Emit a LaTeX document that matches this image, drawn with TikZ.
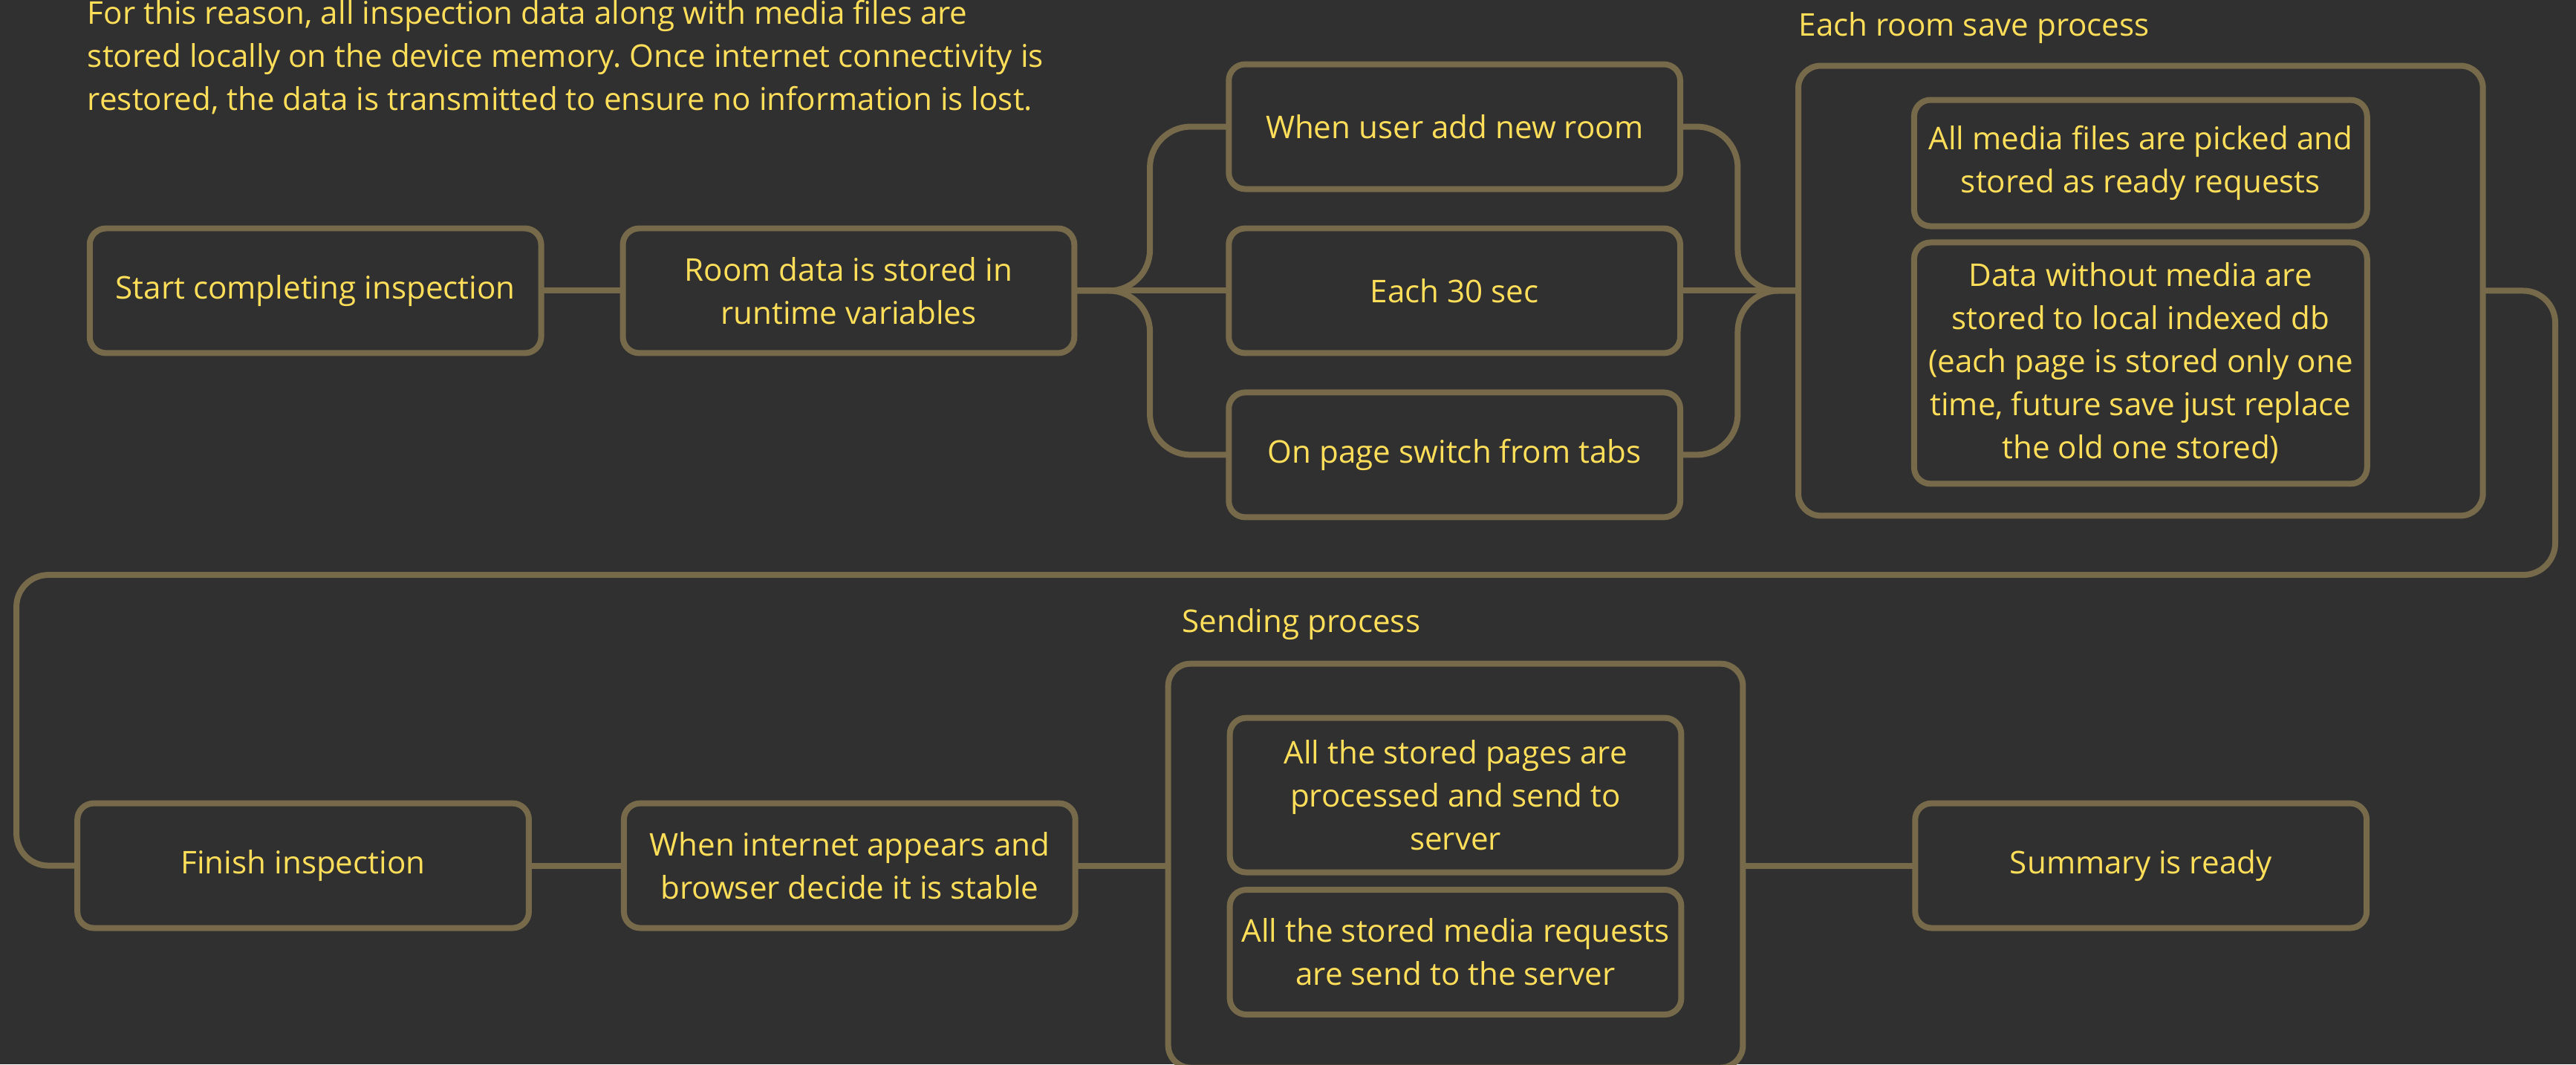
\documentclass[tikz,border=0pt]{standalone}
\usepackage{fontspec}
\setmainfont{Open Sans}
\usetikzlibrary{positioning}
\frenchspacing

\definecolor{bgcol}{RGB}{48,48,48}
\definecolor{edgecol}{RGB}{118,106,74}
\definecolor{txtcol}{RGB}{255,222,89}

\tikzset{
  block/.style={draw=edgecol, fill=bgcol, line width=0.08cm, rounded corners=0.22cm,
    text=txtcol, align=center, minimum width=6.08cm, minimum height=1.68cm,
    inner sep=2pt, outer sep=0pt},
  inner/.style={block, minimum width=6.1cm},
  group/.style={draw=edgecol, fill=bgcol, line width=0.08cm, rounded corners=0.3cm, outer sep=0pt},
  caption/.style={text=txtcol, inner sep=0pt},
  link/.style={draw=edgecol, line width=0.08cm, rounded corners=0.55cm},
}

\begin{document}
\begin{tikzpicture}[x=0.02212cm, y=-0.02212cm, font=\fontsize{12}{16.5}\selectfont]
    \fill[bgcol] (0,0) rectangle (1568,648);
    \useasboundingbox (0,0) rectangle (1568,648);

    \node[caption, anchor=west, align=left] (note) at (53,35)
      {For this reason, all inspection data along with media files are\\
       stored locally on the device memory. Once internet connectivity is\\
       restored, the data is transmitted to ensure no information is lost.};

    % saving while the inspection runs
    \node[block] (start) at (192,177) {Start completing inspection};
    \node[block, right=1.1cm of start] (room) {Room data is stored in\\runtime variables};
    \node[block, right=2.08cm of room] (sec) {Each 30 sec};
    \node[block, above=0.53cm of sec] (add) {When user add new room};
    \node[block, below=0.53cm of sec] (page) {On page switch from tabs};
    \node[group, minimum width=9.22cm, minimum height=6.06cm, right=1.59cm of sec] (save) {};
    \node[caption, anchor=base west] (savelabel) at ([yshift=0.4cm]save.north west) {Each room save process};
    \node[inner, minimum height=1.7cm, below=0.46cm of save.north] (media)
      {All media files are picked and\\stored as ready requests};
    \node[inner, minimum height=3.25cm, below=0.22cm of media] (data)
      {Data without media are\\stored to local indexed db\\(each page is stored only one\\time, future save just replace\\the old one stored)};

    % sending once online
    \node[block] (finish) at (184.5,527) {Finish inspection};
    \node[block, right=1.28cm of finish] (internet) {When internet appears and\\browser decide it is stable};
    \node[group, minimum width=7.74cm, minimum height=5.44cm, right=1.25cm of internet] (send) {};
    \node[caption, anchor=base west] (sendlabel) at ([xshift=0.18cm, yshift=0.42cm]send.north west) {Sending process};
    \node[inner, minimum width=6.08cm, minimum height=2.08cm, below=0.73cm of send.north] (pages)
      {All the stored pages are\\processed and send to\\server};
    \node[inner, minimum width=6.08cm, below=0.235cm of pages] (requests)
      {All the stored media requests\\are send to the server};
    \node[block, right=2.32cm of send] (summary) {Summary is ready};

    \draw[link] (start) -- (room);
    \draw[link] (room) -- (sec);
    \draw[link] (room.east) -- ++(46,0) |- (add.west);
    \draw[link] (room.east) -- ++(46,0) |- (page.west);
    \draw[link] (sec) -- (save);
    \draw[link] (add.east) -- ++(35,0) |- (save.west);
    \draw[link] (page.east) -- ++(35,0) |- (save.west);
    \coordinate (back) at (10,350);
    \draw[link, rounded corners=0.43cm] (save.east) -| ++(44,173) -- (back) |- (finish.west);
    \draw[link] (finish) -- (internet);
    \draw[link] (internet) -- (send);
    \draw[link] (send) -- (summary);
\end{tikzpicture}
\end{document}
